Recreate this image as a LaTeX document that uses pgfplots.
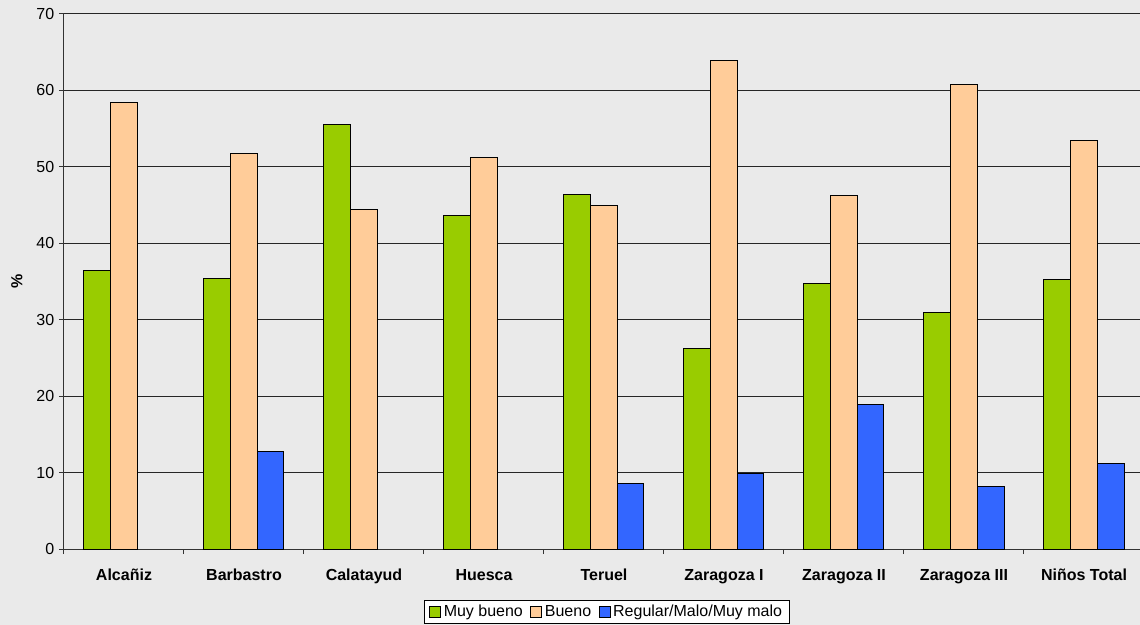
\documentclass[border=0pt]{standalone}
\usepackage{pgfplots}
\pgfplotsset{compat=1.18}
\usepackage{fontspec}
\setmainfont{Liberation Sans}
\definecolor{bg}{HTML}{EAEAEA}
\definecolor{cgreen}{HTML}{99CC00}
\definecolor{cpeach}{HTML}{FFCC99}
\definecolor{cblue}{HTML}{3366FF}
\begin{document}
\begin{tikzpicture}[font=\fontsize{12}{14}\selectfont]
\fill[bg] (-48pt,-57pt) rectangle (807pt,411.75pt);
\useasboundingbox (-48pt,-57pt) rectangle (807pt,411.75pt);
\begin{axis}[
  at={(0,0)}, anchor=south west,
  scale only axis, width=807pt, height=401.25pt,
  xmin=-0.5, xmax=8.4667, ymin=0, ymax=70,
  axis lines*=left,
  axis line style={black!80, line width=0.75pt, -},
  ytick={0,10,...,60},
  extra y ticks={70},
  extra y tick style={grid style={black!40, line width=0.75pt}},
  ymajorgrids,
  major grid style={black!85, line width=0.75pt},
  tick align=outside,
  major tick length=3.75pt,
  minor tick length=3.75pt,
  tick style={black!80, line width=0.75pt},
  xtick={0,...,8},
  xticklabels={Alcañiz,Barbastro,Calatayud,Huesca,Teruel,Zaragoza I,Zaragoza II,Zaragoza III,Niños Total},
  major x tick style={draw=none},
  minor xtick={-0.5,0.5,...,7.5},
  minor x tick style={black!80, line width=0.75pt},
  xticklabel style={font=\fontsize{12}{14}\selectfont\bfseries, yshift=-8pt},
  yticklabel style={font=\fontsize{12}{14}\selectfont},
  /pgf/number format/assume math mode=true,
  ylabel={\%},
  ylabel style={font=\fontsize{12}{14}\selectfont\bfseries, at={(axis description cs:-0.0437,0.5)}, anchor=center},
  ybar=0pt, bar width=20pt,
  every axis plot/.append style={draw=black, line width=0.75pt},
  legend style={at={(axis description cs:0.5046,-0.0953)}, anchor=north, legend columns=3,
    draw=black, fill=white, font=\fontsize{12}{14}\selectfont, inner xsep=3.5pt, inner ysep=1.5pt,
    /tikz/every even column/.append style={column sep=3.5pt}},
  legend image code/.code={\draw[#1] (0pt,-4.1pt) rectangle (8.25pt,4.1pt);},
]
\addplot[fill=cgreen] coordinates {(0,36.4) (1,35.4) (2,55.5) (3,43.6) (4,46.4) (5,26.2) (6,34.8) (7,30.9) (8,35.3)};
\addplot[fill=cpeach] coordinates {(0,58.4) (1,51.8) (2,44.4) (3,51.2) (4,45.0) (5,63.9) (6,46.2) (7,60.8) (8,53.4)};
\addplot[fill=cblue] coordinates {(1,12.8) (4,8.6) (5,9.85) (6,18.9) (7,8.2) (8,11.2)};
\legend{Muy bueno,Bueno,Regular/Malo/Muy malo}
\end{axis}
\end{tikzpicture}
\end{document}
